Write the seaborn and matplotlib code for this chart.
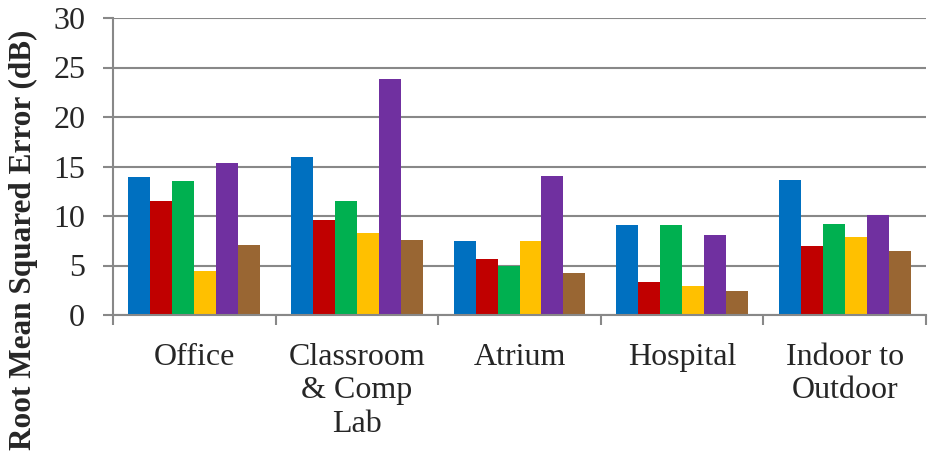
import matplotlib
matplotlib.use("Agg")
import matplotlib.pyplot as plt
import seaborn as sns
import pandas as pd
import numpy as np

# Environments on the x axis
categories = ["Office", "Classroom\n& Comp\nLab", "Atrium", "Hospital", "Indoor to\nOutdoor"]

# RMSE (dB) per series, one value per environment
series_names = ["S1", "S2", "S3", "S4", "S5", "S6"]
s1 = [13.9, 16.0, 7.5, 9.1, 13.6]
s2 = [11.5, 9.6, 5.7, 3.3, 7.0]
s3 = [13.5, 11.5, 5.0, 9.1, 9.2]
s4 = [4.4, 8.3, 7.5, 2.9, 7.9]
s5 = [15.4, 23.8, 14.0, 8.1, 10.1]
s6 = [7.1, 7.6, 4.2, 2.4, 6.5]

colors = ["#0070C0", "#C00000", "#00B050", "#FFC000", "#7030A0", "#996633"]

rows = []
for name, vals in zip(series_names, [s1, s2, s3, s4, s5, s6]):
    for cat, v in zip(categories, vals):
        rows.append({"Environment": cat, "Series": name, "RMSE": v})
df = pd.DataFrame(rows)

sns.set_style("white")
plt.rcParams["font.family"] = ["Liberation Serif", "DejaVu Serif"]

fig = plt.figure(figsize=(9.34, 4.53), dpi=100)
ax = fig.add_axes([113 / 934, 1 - 315 / 453, (926 - 113) / 934, (315 - 18) / 453])

grid_c = "#888888"
ax.set_axisbelow(True)
ax.yaxis.grid(True, color=grid_c, linewidth=1.5)

sns.barplot(data=df, x="Environment", y="RMSE", hue="Series", order=categories,
            hue_order=series_names, palette=colors, width=0.81, gap=0,
            saturation=1, legend=False, ax=ax, linewidth=0)

ax.set_xlim(-0.5, len(categories) - 0.5)
ax.set_ylim(0, 30)
ax.set_yticks(np.arange(0, 31, 5))
ax.set_xlabel("")
ax.set_ylabel("")

for side in ["top", "right"]:
    ax.spines[side].set_visible(False)
for side in ["left", "bottom"]:
    ax.spines[side].set_color(grid_c)
    ax.spines[side].set_linewidth(1.5)

ax.tick_params(axis="y", which="major", left=True, length=7, width=1.5,
               color=grid_c, pad=13, labelsize=23)
ax.tick_params(axis="x", which="major", bottom=False, length=0, pad=20, labelsize=23)
ax.set_xticks(np.arange(-0.5, len(categories)), minor=True)
ax.tick_params(axis="x", which="minor", bottom=True, length=7, width=1.5, color=grid_c)
for lab in ax.get_xticklabels():
    lab.set_linespacing(1.2)
    lab.set_verticalalignment("top")

fig.text(23 / 934, 1 - 240 / 453, "Root Mean Squared Error (dB)", rotation=90,
         ha="center", va="center", fontsize=22.5, fontweight="bold")

fig.savefig("out.png", dpi=100)
